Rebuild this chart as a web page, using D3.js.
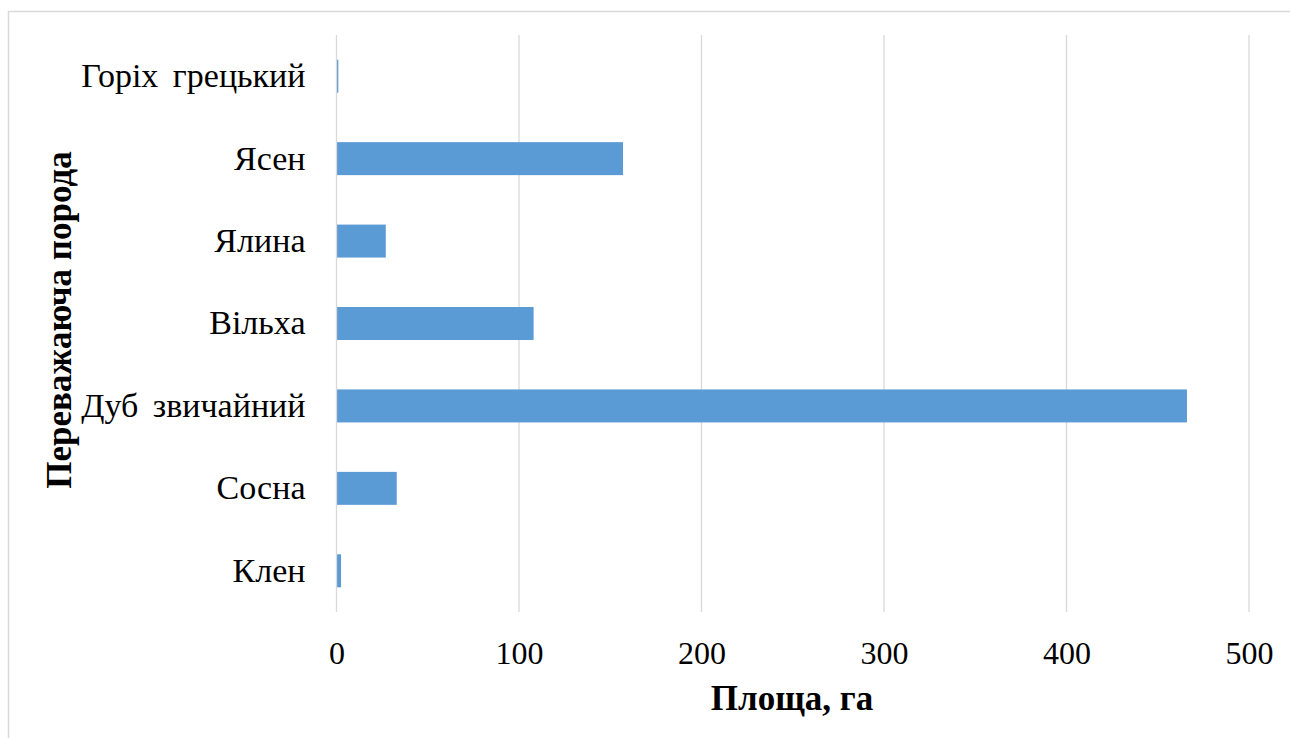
<!DOCTYPE html>
<html>
<head>
<meta charset="utf-8">
<script src="https://cdn.jsdelivr.net/npm/d3@7"></script>
<style>
  html, body { margin: 0; padding: 0; background: #fff; }
  svg { display: block; }
  text { font-family: "Liberation Serif", "Times New Roman", serif; fill: #000; }
</style>
</head>
<body>
<svg id="chart" width="1290" height="738"></svg>
<script>
// Species (bottom to top as drawn) and area in hectares
const species = ["Клен", "Сосна", "Дуб звичайний", "Вільха", "Ялина", "Ясен", "Горіх грецький"];
const areaHa = [2.5, 33, 466, 108, 27, 157, 1];
const xTicks = [0, 100, 200, 300, 400, 500];

const svg = d3.select("#chart");
const W = 1290, H = 738;
const serif = '"Liberation Serif", "Times New Roman", serif';

// outer chart frame
svg.append("rect")
  .attr("x", 8.5).attr("y", 11.5)
  .attr("width", W + 10).attr("height", H + 10)
  .attr("fill", "none").attr("stroke", "#d9d9d9").attr("stroke-width", 1.5);

const plot = { left: 336.5, right: 1249, top: 35, bottom: 612 };

const x = d3.scaleLinear().domain([0, 500]).range([plot.left, plot.right]);
const y = d3.scaleBand()
  .domain(species.slice().reverse())
  .range([plot.top, plot.bottom])
  .paddingInner(0.6).paddingOuter(0.3);

// vertical gridlines
svg.append("g").selectAll("line").data(xTicks.slice(1)).join("line")
  .attr("x1", d => x(d)).attr("x2", d => x(d))
  .attr("y1", plot.top).attr("y2", plot.bottom)
  .attr("stroke", "#d9d9d9").attr("stroke-width", 1.3);

// bars
const data = species.map((s, i) => ({ s, v: areaHa[i] }));
svg.append("g").selectAll("rect").data(data).join("rect")
  .attr("x", x(0))
  .attr("y", d => y(d.s))
  .attr("width", d => x(d.v) - x(0))
  .attr("height", y.bandwidth())
  .attr("fill", "#5b9bd5");

// category axis line
svg.append("line")
  .attr("x1", x(0)).attr("x2", x(0))
  .attr("y1", plot.top).attr("y2", plot.bottom)
  .attr("stroke", "#d9d9d9").attr("stroke-width", 1.3);

// category labels
const yAxis = d3.axisLeft(y).tickSize(0).tickPadding(31);
const gy = svg.append("g").attr("transform", `translate(${x(0)},0)`).call(yAxis);
gy.attr("font-family", null).attr("font-size", null);
gy.select(".domain").remove();
gy.selectAll("text")
  .style("font-family", serif)
  .style("font-size", "34px")
  .style("word-spacing", "6px")
  .attr("fill", "#000");

// value axis labels
const xAxis = d3.axisBottom(x).tickValues(xTicks).tickSize(0).tickPadding(29);
const gx = svg.append("g").attr("transform", `translate(0,${plot.bottom})`).call(xAxis);
gx.attr("font-family", null).attr("font-size", null);
gx.select(".domain").remove();
gx.selectAll("text")
  .style("font-family", serif)
  .style("font-size", "32px").attr("fill", "#000");

// axis titles
svg.append("text")
  .attr("x", 792).attr("y", 710)
  .attr("text-anchor", "middle")
  .style("font-family", serif)
  .style("font-size", "35px").style("font-weight", "bold")
  .text("Площа, га");

svg.append("text")
  .attr("transform", "translate(71,320) rotate(-90)")
  .attr("text-anchor", "middle")
  .style("font-family", serif)
  .style("font-size", "35px").style("font-weight", "bold")
  .text("Переважаюча порода");
</script>
</body>
</html>
